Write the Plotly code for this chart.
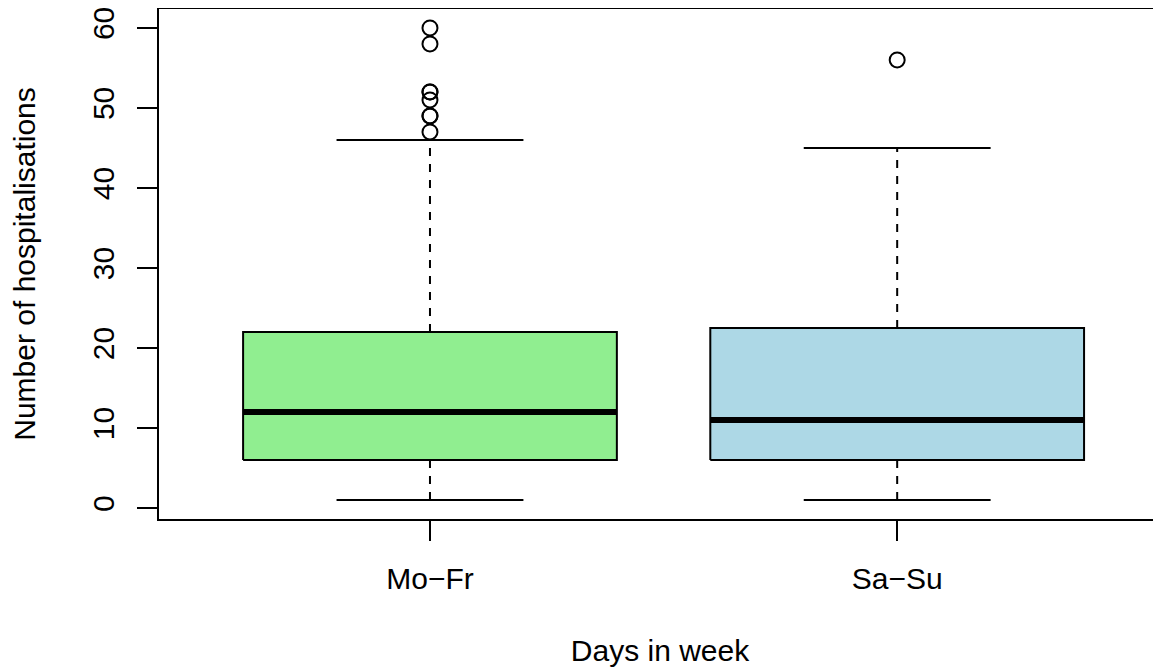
import plotly.graph_objects as go

# ---- data ----
categories = ["Mo\u2212Fr", "Sa\u2212Su"]
lower_whisker = [1, 1]
q1 = [6, 6]
median = [12, 11]
q3 = [22, 22.5]
upper_whisker = [46, 45]
outliers = [[47, 49, 49, 51, 52, 52, 58, 60], [56]]
fill_colors = ["#90EE90", "#ADD8E6"]
y_ticks = [0, 10, 20, 30, 40, 50, 60]

FONT = "Liberation Sans, Arial, Helvetica, sans-serif"
FS = 30
BOX_HALF = 0.4
STAPLE_HALF = 0.2

fig = go.Figure()

positions = list(range(1, len(categories) + 1))
for i, pos in enumerate(positions):
    # dashed whiskers
    for a, b in [(q3[i], upper_whisker[i]), (q1[i], lower_whisker[i])]:
        fig.add_trace(go.Scatter(x=[pos, pos], y=[a, b], mode="lines",
                                 line=dict(color="black", width=2, dash="8px,8px"),
                                 hoverinfo="skip", showlegend=False))
    # staples
    for w in [upper_whisker[i], lower_whisker[i]]:
        fig.add_trace(go.Scatter(x=[pos - STAPLE_HALF, pos + STAPLE_HALF], y=[w, w],
                                 mode="lines", line=dict(color="black", width=2),
                                 hoverinfo="skip", showlegend=False))
    # box
    xl, xr = pos - BOX_HALF, pos + BOX_HALF
    fig.add_trace(go.Scatter(x=[xl, xr, xr, xl, xl], y=[q1[i], q1[i], q3[i], q3[i], q1[i]],
                             mode="lines", fill="toself", fillcolor=fill_colors[i],
                             line=dict(color="black", width=2),
                             hoverinfo="skip", showlegend=False))
    # median
    fig.add_trace(go.Scatter(x=[xl, xr], y=[median[i], median[i]], mode="lines",
                             line=dict(color="black", width=6),
                             hoverinfo="skip", showlegend=False))
    # outliers
    fig.add_trace(go.Scatter(x=[pos] * len(outliers[i]), y=outliers[i], mode="markers",
                             marker=dict(symbol="circle-open", size=15, color="black",
                                         line=dict(width=2, color="black")),
                             showlegend=False))

# page body has an 8px margin, so the figure is drawn 8px right/down
W, H = 1153, 659
ML, MR, MT, MB = 151, 0, 1, 148
px_per_unit = 467.2
x0 = 0.42
x1 = x0 + (W - ML - MR) / px_per_unit

fig.update_layout(
    width=W, height=H,
    margin=dict(l=ML, r=MR, t=MT, b=MB, pad=0, autoexpand=False),
    paper_bgcolor="white", plot_bgcolor="white",
    font=dict(family=FONT, size=FS, color="black"),
    xaxis=dict(range=[x0, x1], tickmode="array", tickvals=positions, ticktext=categories,
               ticks="outside", ticklen=20, tickwidth=2, tickcolor="black",
               showline=True, linecolor="black", linewidth=2, mirror=True,
               showgrid=False, zeroline=False, ticklabelstandoff=12, automargin=False,
               ticklabeloverflow="allow",
               title=dict(text="Days in week", standoff=54,
                          font=dict(family=FONT, size=FS))),
    yaxis=dict(range=[-1.36, 62.36], tickmode="array", tickvals=y_ticks,
               ticks="outside", ticklen=20, tickwidth=2, tickcolor="black",
               showline=True, linecolor="black", linewidth=2, automargin=False,
               showgrid=False, zeroline=False, tickangle=-90, ticklabelstandoff=11,
               ticklabeloverflow="allow",
               title=dict(text="Number of hospitalisations", standoff=44,
                          font=dict(family=FONT, size=FS))),
)

fig.write_html("out.html")
